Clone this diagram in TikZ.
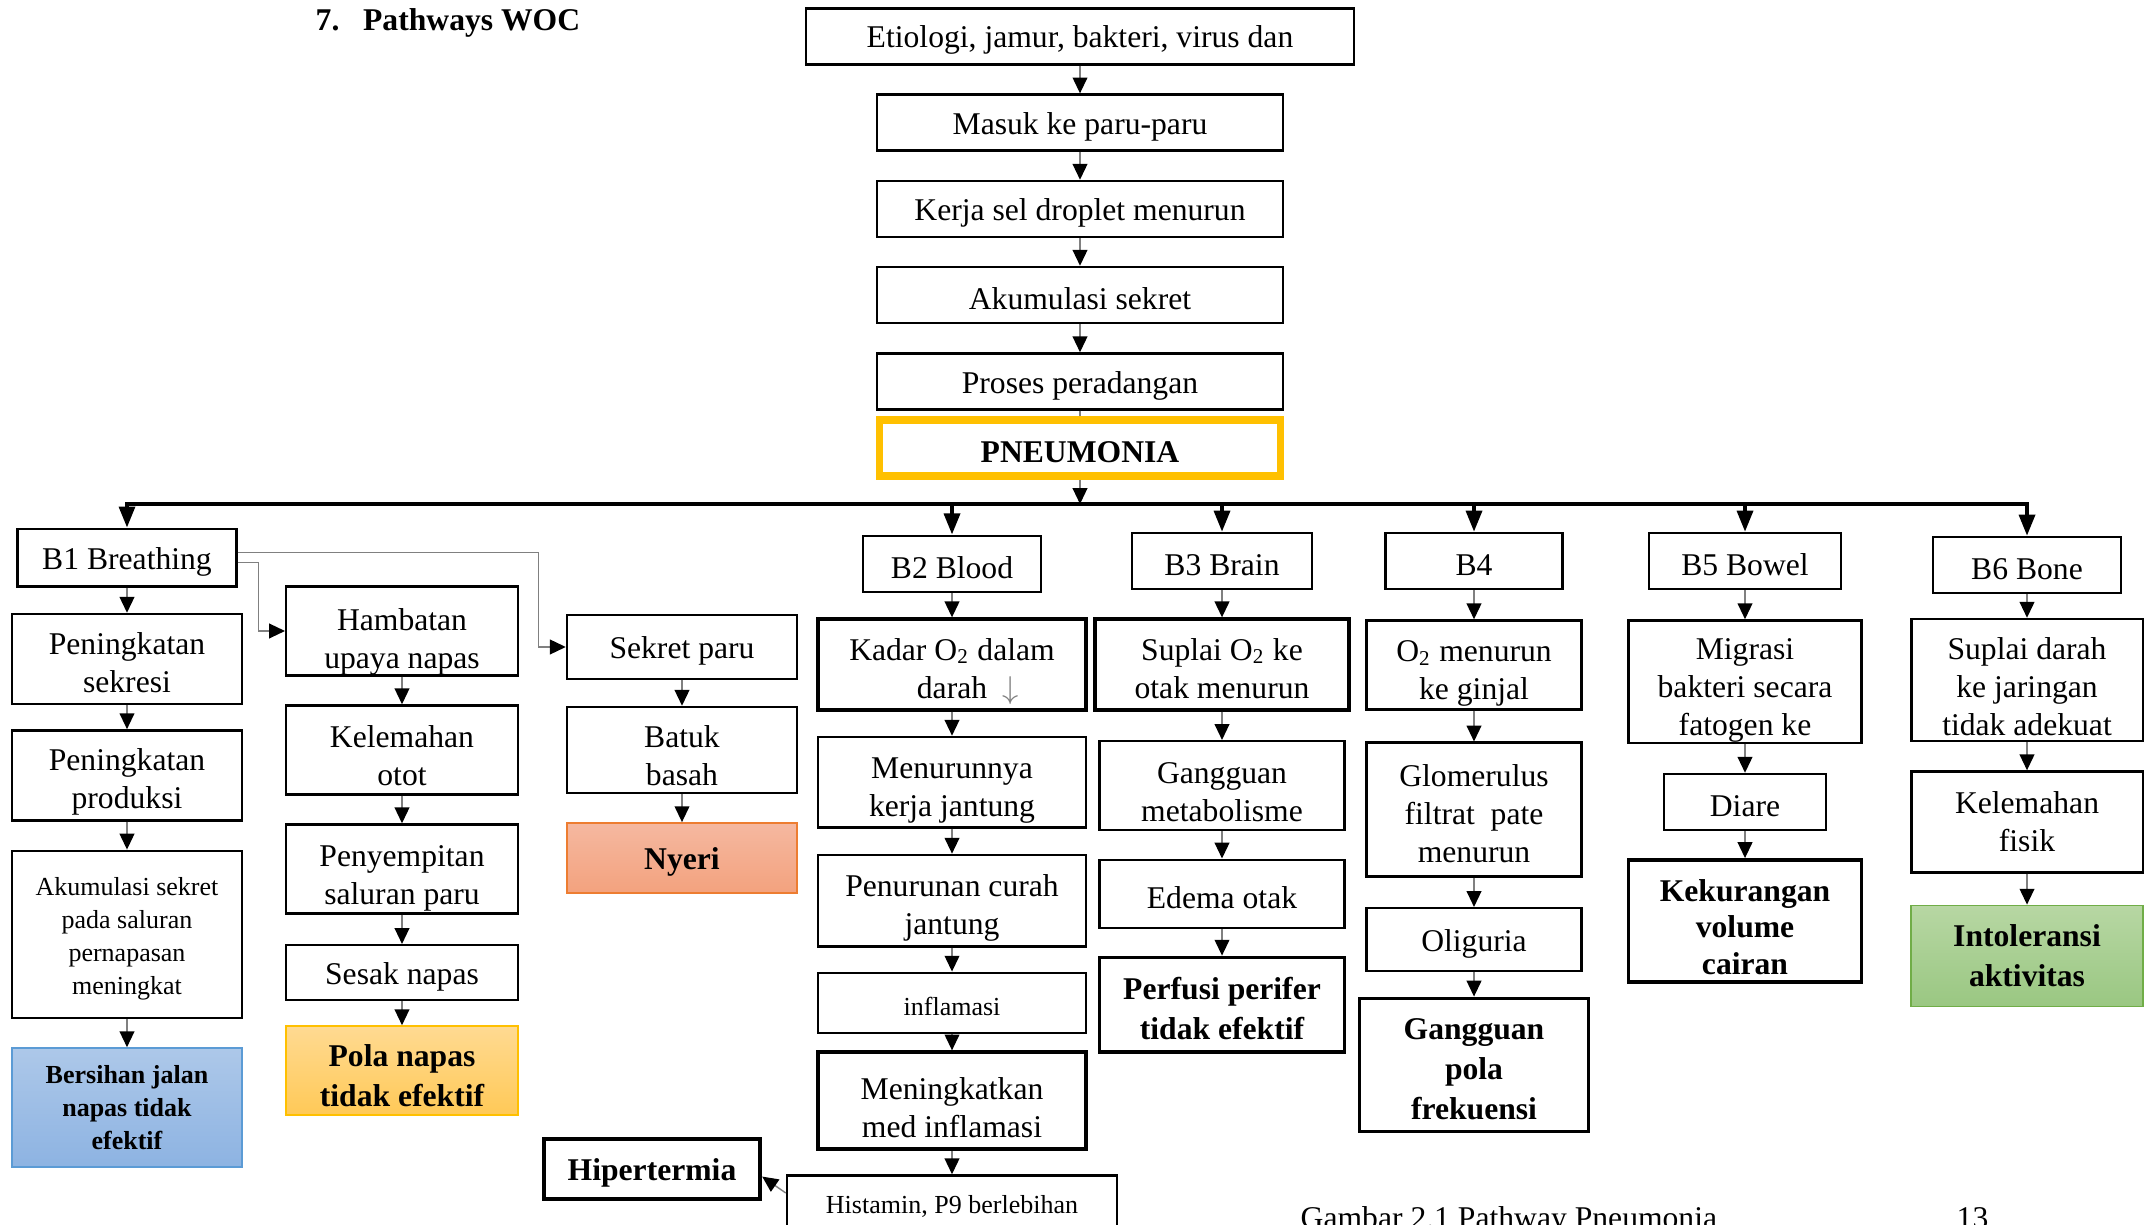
\documentclass[tikz,border=0pt]{standalone}
\usepackage{fontspec}
\setmainfont{Liberation Serif}
\usepackage{xcolor}
\usetikzlibrary{arrows.meta}
\definecolor{kuning}{HTML}{FFC000}
\definecolor{biruA}{HTML}{ADC8E9}
\definecolor{biruB}{HTML}{8DB3E2}
\definecolor{biruG}{HTML}{5B9BD5}
\definecolor{oranA}{HTML}{FFDA92}
\definecolor{oranB}{HTML}{FFC957}
\definecolor{merahA}{HTML}{F5B8A0}
\definecolor{merahB}{HTML}{F3A27E}
\definecolor{merahG}{HTML}{ED7D31}
\definecolor{hijauA}{HTML}{B7D7A3}
\definecolor{hijauB}{HTML}{9AC782}
\definecolor{hijauG}{HTML}{70AD47}
\newcommand{\kepala}[1]{\rule{0pt}{#1}}
\tikzset{bx/.style={draw,line width=0.7pt,align=center,inner xsep=1pt,inner ysep=0pt,font=\fontsize{9}{10.8}\selectfont,execute at begin node={\rule{0pt}{0.95em}}}}
\tikzset{tb/.style={bx,line width=1.1pt}}
\tikzset{sm/.style={bx,font=\fontsize{7.4}{9.4}\selectfont}}
\tikzset{dx/.style={bx,font=\fontsize{9}{11.4}\selectfont\bfseries}}
\tikzset{dxblue/.style={bx,draw=biruG,line width=0.5pt,top color=biruA,bottom color=biruB,font=\fontsize{7.4}{9.4}\selectfont\bfseries}}
\tikzset{dxorange/.style={dx,draw=kuning,line width=0.5pt,top color=oranA,bottom color=oranB}}
\tikzset{dxred/.style={dx,draw=merahG,line width=0.5pt,top color=merahA,bottom color=merahB}}
\tikzset{dxgreen/.style={dx,draw=hijauG,line width=0.5pt,top color=hijauA,bottom color=hijauB}}
\tikzset{arr/.style={->,draw=gray,line width=0.4pt}}
\tikzset{busline/.style={-{Triangle[width=4.5pt,length=6pt]},line width=1.1pt}}

\begin{document}
\begin{tikzpicture}[>={Triangle[width=4.2pt,length=4.5pt,color=black]}]
    \useasboundingbox (0,0) rectangle (21.48,12.24);

    \node[anchor=west,inner sep=0,font=\fontsize{9}{10.8}\selectfont\bfseries] (judul) at (3.15,12.01) {7.\hspace{0.75em}Pathways WOC};

    % alur utama
    \node[bx,minimum width=5.48cm,minimum height=0.56cm] (eti) at (10.80,11.877) {Etiologi, jamur, bakteri, virus dan};
    \node[bx,minimum width=4.055cm,minimum height=0.56cm] (masuk) at (10.80,11.014) {Masuk ke paru-paru};
    \node[bx,minimum width=4.055cm,minimum height=0.56cm] (kerja) at (10.80,10.15) {Kerja sel droplet menurun};
    \node[bx,minimum width=4.055cm,minimum height=0.56cm] (akum) at (10.80,9.29) {Akumulasi sekret};
    \node[bx,minimum width=4.055cm,minimum height=0.56cm] (proses) at (10.80,8.425) {Proses peradangan};
    \node[dx,draw=kuning,line width=2pt,minimum width=4.01cm,minimum height=0.56cm] (pneu) at (10.80,7.76) {PNEUMONIA};
    \coordinate (hub) at (10.80,7.20);

    \draw [arr] (eti) to (masuk);
    \draw [arr] (masuk) to (kerja);
    \draw [arr] (kerja) to (akum);
    \draw [arr] (akum) to (proses);
    \draw [draw=gray,line width=0.4pt] (proses) to (pneu);
    \draw [arr] (pneu) to (hub);

    % B1 - B6
    \node[bx,minimum width=2.19cm,minimum height=0.575cm] (b1) at (1.27,6.664) {B1 Breathing};
    \node[bx,minimum width=1.78cm,minimum height=0.56cm] (b2) at (9.52,6.602) {B2 Blood};
    \node[bx,minimum width=1.795cm,minimum height=0.56cm] (b3) at (12.22,6.63) {B3 Brain};
    \node[bx,minimum width=1.77cm,minimum height=0.56cm] (b4) at (14.74,6.63) {B4};
    \node[bx,minimum width=1.92cm,minimum height=0.56cm] (b5) at (17.45,6.63) {B5 Bowel};
    \node[bx,minimum width=1.88cm,minimum height=0.56cm] (b6) at (20.27,6.59) {B6 Bone};

    \draw [busline] (hub) -| (b1);
    \draw [busline] (hub) -| (b2);
    \draw [busline] (hub) -| (b3);
    \draw [busline] (hub) -| (b4);
    \draw [busline] (hub) -| (b5);
    \draw [busline] (hub) -| (b6);

    % B1 Breathing
    \node[bx,minimum width=2.30cm,minimum height=0.90cm] (sekresi) at (1.27,5.65) {\kepala{0.92em}Peningkatan\\ sekresi};
    \node[bx,minimum width=2.30cm,minimum height=0.90cm] (produksi) at (1.27,4.486) {\kepala{1.12em}Peningkatan\\ produksi};
    \node[sm,minimum width=2.30cm,minimum height=1.67cm] (akumsek) at (1.27,2.897) {\kepala{1.05em}Akumulasi sekret\\ pada saluran\\ pernapasan\\ meningkat};
    \node[dxblue,minimum width=2.30cm,minimum height=1.19cm] (bersihan) at (1.27,1.164) {Bersihan jalan\\ napas tidak\\ efektif};

    \node[bx,minimum width=2.316cm,minimum height=0.89cm] (hambatan) at (4.02,5.93) {\kepala{1.36em}Hambatan\\ upaya napas};
    \node[bx,minimum width=2.316cm,minimum height=0.89cm] (otot) at (4.02,4.74) {\kepala{1.08em}Kelemahan\\ otot};
    \node[bx,minimum width=2.316cm,minimum height=0.89cm] (sempit) at (4.02,3.55) {\kepala{1.28em}Penyempitan\\ saluran paru};
    \node[bx,minimum width=2.316cm,minimum height=0.55cm] (sesak) at (4.02,2.513) {Sesak napas};
    \node[dxorange,minimum width=2.316cm,minimum height=0.89cm] (polanapas) at (4.02,1.534) {\kepala{1.0em}Pola napas\\ tidak efektif};

    \node[bx,minimum width=2.30cm,minimum height=0.64cm] (sekret) at (6.82,5.77) {Sekret paru};
    \node[bx,minimum width=2.30cm,minimum height=0.86cm] (batuk) at (6.82,4.74) {\kepala{1.08em}Batuk\\ basah};
    \node[dxred,minimum width=2.30cm,minimum height=0.70cm] (nyeri) at (6.82,3.66) {Nyeri};

    \draw [arr] (b1) to (sekresi);
    \draw [arr] (sekresi) to (produksi);
    \draw [arr] (produksi) to (akumsek);
    \draw [arr] (akumsek) to (bersihan);
    \draw [arr] ([yshift=-0.05cm]b1.east) -- ++(0.21,0) |- (hambatan.west);
    \draw [arr] ([yshift=0.05cm]b1.east) -- ++(3.01,0) |- (sekret.west);
    \draw [arr] (hambatan) to (otot);
    \draw [arr] (otot) to (sempit);
    \draw [arr] (sempit) to (sesak);
    \draw [arr] (sesak) to (polanapas);
    \draw [arr] (sekret) to (batuk);
    \draw [arr] (batuk) to (nyeri);

    % B2 Blood
    \node[tb,minimum width=2.685cm,minimum height=0.905cm] (kadar) at (9.52,5.595) {\kepala{1.12em}Kadar O\textsubscript{2} dalam\\ darah\rlap{\ \ {\color{gray}$\downarrow$}}};
    \node[bx,minimum width=2.685cm,minimum height=0.905cm] (jantung) at (9.52,4.418) {\kepala{1.2em}Menurunnya\\ kerja jantung};
    \node[bx,minimum width=2.685cm,minimum height=0.918cm] (curah) at (9.52,3.232) {\kepala{1.12em}Penurunan curah\\ jantung};
    \node[sm,minimum width=2.685cm,minimum height=0.60cm] (inflamasi) at (9.52,2.212) {inflamasi};
    \node[tb,minimum width=2.685cm,minimum height=0.97cm] (medinf) at (9.52,1.232) {\kepala{1.12em}Meningkatkan\\ med inflamasi};
    \node[sm,minimum width=3.30cm,minimum height=0.55cm] (histamin) at (9.52,0.21) {Histamin, P9 berlebihan};
    \node[dx,line width=1.1pt,minimum width=2.165cm,minimum height=0.60cm] (hiper) at (6.52,0.554) {Hipertermia};

    \draw [arr] (b2) to (kadar);
    \draw [arr] (kadar) to (jantung);
    \draw [arr] (jantung) to (curah);
    \draw [arr] (curah) to (inflamasi);
    \draw [arr] (inflamasi) to (medinf);
    \draw [arr] (medinf) to (histamin);
    \draw [arr] ([yshift=0.1cm]histamin.west) to ([yshift=-0.08cm]hiper.east);

    % B3 Brain
    \node[tb,minimum width=2.535cm,minimum height=0.905cm] (suplai) at (12.22,5.595) {\kepala{0.95em}Suplai O\textsubscript{2} ke\\ otak menurun};
    \node[bx,minimum width=2.45cm,minimum height=0.89cm] (metab) at (12.22,4.383) {\kepala{1.08em}Gangguan\\ metabolisme};
    \node[bx,minimum width=2.45cm,minimum height=0.685cm] (edema) at (12.22,3.30) {Edema otak};
    \node[dx,line width=1.1pt,minimum width=2.45cm,minimum height=0.945cm] (perfusi) at (12.22,2.192) {\kepala{0.95em}Perfusi perifer\\ tidak efektif};

    \draw [arr] (b3) to (suplai);
    \draw [arr] (suplai) to (metab);
    \draw [arr] (metab) to (edema);
    \draw [arr] (edema) to (perfusi);

    % B4
    \node[bx,minimum width=2.15cm,minimum height=0.89cm] (ginjal) at (14.74,5.59) {\kepala{1.2em}O\textsubscript{2} menurun\\ ke ginjal};
    \node[bx,minimum width=2.15cm,minimum height=1.34cm] (glom) at (14.74,4.143) {\kepala{0.95em}Glomerulus\\ filtrat~~pate\\ menurun};
    \node[bx,minimum width=2.15cm,minimum height=0.63cm] (oligu) at (14.74,2.843) {Oliguria};
    \node[dx,line width=1.1pt,minimum width=2.29cm,minimum height=1.33cm] (ggpola) at (14.74,1.59) {\kepala{0.95em}Gangguan\\ pola\\ frekuensi};

    \draw [arr] (b4) to (ginjal);
    \draw [arr] (ginjal) to (glom);
    \draw [arr] (glom) to (oligu);
    \draw [arr] (oligu) to (ggpola);

    % B5 Bowel
    \node[bx,minimum width=2.33cm,minimum height=1.22cm] (migrasi) at (17.45,5.424) {\kepala{1.25em}Migrasi\\ bakteri secara\\ fatogen ke};
    \node[bx,minimum width=1.617cm,minimum height=0.56cm] (diare) at (17.45,4.22) {Diare};
    \node[dx,line width=1.1pt,font=\fontsize{9}{10.3}\selectfont\bfseries,minimum width=2.33cm,minimum height=1.22cm] (kurang) at (17.45,3.03) {\kepala{1.08em}Kekurangan\\ volume\\ cairan};

    \draw [arr] (b5) to (migrasi);
    \draw [arr] (migrasi) to (diare);
    \draw [arr] (diare) to (kurang);

    % B6 Bone
    \node[bx,minimum width=2.315cm,minimum height=1.22cm] (suplaidarah) at (20.27,5.44) {\kepala{1.12em}Suplai darah\\ ke jaringan\\ tidak adekuat};
    \node[bx,minimum width=2.315cm,minimum height=1.01cm] (fisik) at (20.27,4.02) {Kelemahan\\ fisik};
    \node[dxgreen,minimum width=2.315cm,minimum height=1.01cm] (intol) at (20.27,2.68) {Intoleransi\\ aktivitas};

    \draw [arr] (b6) to (suplaidarah);
    \draw [arr] (suplaidarah) to (fisik);
    \draw [arr] (fisik) to (intol);

    \node[anchor=base west,inner sep=0,font=\fontsize{9}{10.8}\selectfont] (gambar) at (13.00,-0.04) {Gambar 2.1 Pathway Pneumonia};
    \node[anchor=base west,inner sep=0,font=\fontsize{9}{10.8}\selectfont] (hal) at (19.56,-0.04) {13};
\end{tikzpicture}
\end{document}
